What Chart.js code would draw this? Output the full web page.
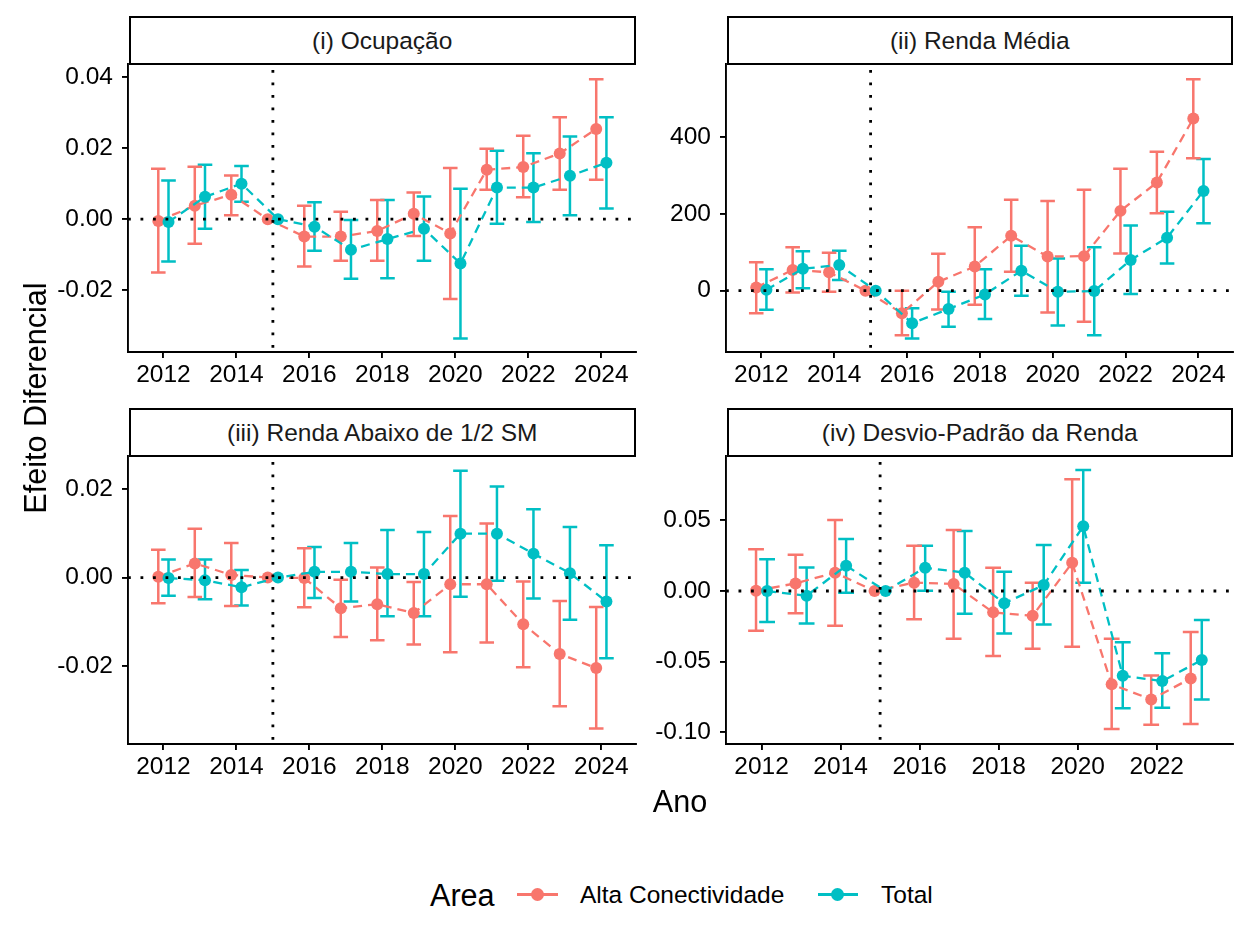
<!DOCTYPE html>
<html>
<head>
<meta charset="utf-8">
<script src="https://cdn.jsdelivr.net/npm/chart.js@4.4.1/dist/chart.umd.min.js"></script>
<style>
  body { margin: 0; background: #fff; width: 1250px; height: 952px; position: relative; overflow: hidden;
         font-family: "Liberation Sans", Arial, sans-serif; }
  canvas { position: absolute; }
  .strip { position: absolute; box-sizing: border-box; border: 2px solid #000; background: #fff;
           text-align: center; font-size: 24.5px; color: #1a1a1a; }
  .txt { position: absolute; white-space: nowrap; color: #000; }
</style>
</head>
<body>
<script>
// anos
const years = [2012, 2013, 2014, 2015, 2016, 2017, 2018, 2019, 2020, 2021, 2022, 2023, 2024];
const years4 = [2012, 2013, 2014, 2015, 2016, 2017, 2018, 2019, 2020, 2021, 2022, 2023];

// (i) Ocupação
const ocupAltaVal = [-0.0005, 0.0038, 0.0069, 0, -0.0049, -0.0049, -0.0033, 0.0015, -0.0040, 0.0139, 0.0147, 0.0185, 0.0254];
const ocupAltaLow = [-0.0150, -0.0069, 0.0011, null, -0.0133, -0.0117, -0.0117, -0.0047, -0.0225, 0.0083, 0.0062, 0.0083, 0.0111];
const ocupAltaHigh = [0.0142, 0.0148, 0.0123, null, 0.0038, 0.0021, 0.0054, 0.0075, 0.0144, 0.0198, 0.0235, 0.0287, 0.0394];
const ocupTotVal = [-0.0008, 0.0063, 0.0100, 0, -0.0021, -0.0086, -0.0056, -0.0027, -0.0125, 0.0089, 0.0089, 0.0122, 0.0159];
const ocupTotLow = [-0.0119, -0.0027, 0.0049, null, -0.0089, -0.0168, -0.0166, -0.0117, -0.0336, -0.0013, -0.0008, 0.0011, 0.0030];
const ocupTotHigh = [0.0109, 0.0153, 0.0150, null, 0.0048, -0.0002, 0.0054, 0.0064, 0.0086, 0.0193, 0.0186, 0.0233, 0.0287];

// (ii) Renda Média
const rendaAltaVal = [8, 54, 48, 0, -59, 23, 63, 143, 89, 90, 208, 282, 449];
const rendaAltaLow = [-59, -5, -3, null, -116, -49, -37, 49, -57, -81, 97, 202, 345];
const rendaAltaHigh = [74, 113, 99, null, 0, 96, 165, 237, 234, 263, 318, 362, 551];
const rendaTotVal = [2, 57, 67, 0, -85, -48, -10, 52, -3, -1, 80, 138, 260];
const rendaTotLow = [-50, 6, 28, null, -125, -94, -74, -13, -91, -116, -9, 71, 176];
const rendaTotHigh = [56, 103, 104, null, -46, -3, 56, 117, 84, 113, 170, 206, 343];

// (iii) Renda Abaixo de 1/2 SM
const baixaAltaVal = [0.0002, 0.0032, 0.0006, 0, -0.0001, -0.0069, -0.0060, -0.0080, -0.0015, -0.0015, -0.0105, -0.0172, -0.0204];
const baixaAltaLow = [-0.0058, -0.0044, -0.0064, null, -0.0067, -0.0134, -0.0141, -0.0151, -0.0168, -0.0146, -0.0202, -0.0290, -0.0340];
const baixaAltaHigh = [0.0063, 0.0110, 0.0078, null, 0.0066, -0.0005, 0.0023, -0.0010, 0.0139, 0.0122, -0.0009, -0.0053, -0.0066];
const baixaTotVal = [-0.0001, -0.0006, -0.0022, 0, 0.0013, 0.0013, 0.0008, 0.0008, 0.0099, 0.0099, 0.0054, 0.0010, -0.0054];
const baixaTotLow = [-0.0041, -0.0049, -0.0063, null, -0.0046, -0.0054, -0.0087, -0.0087, -0.0043, -0.0007, -0.0047, -0.0095, -0.0182];
const baixaTotHigh = [0.0041, 0.0041, 0.0017, null, 0.0069, 0.0078, 0.0107, 0.0103, 0.0241, 0.0205, 0.0154, 0.0114, 0.0073];

// (iv) Desvio-Padrão da Renda
const desvAltaVal = [0.0002, 0.0054, 0.0130, 0, 0.0059, 0.0050, -0.0151, -0.0175, 0.0200, -0.0660, -0.0767, -0.0618];
const desvAltaLow = [-0.0281, -0.0158, -0.0245, null, -0.0200, -0.0337, -0.0460, -0.0408, -0.0394, -0.0976, -0.0946, -0.0941];
const desvAltaHigh = [0.0295, 0.0257, 0.0502, null, 0.0321, 0.0432, 0.0165, 0.0059, 0.0790, -0.0337, -0.0597, -0.0290];
const desvTotVal = [0.0000, -0.0033, 0.0179, 0, 0.0165, 0.0130, -0.0087, 0.0042, 0.0458, -0.0599, -0.0637, -0.0488];
const desvTotLow = [-0.0219, -0.0229, -0.0012, null, 0.0002, -0.0160, -0.0300, -0.0236, 0.0059, -0.0830, -0.0825, -0.0767];
const desvTotHigh = [0.0224, 0.0167, 0.0368, null, 0.0321, 0.0425, 0.0137, 0.0325, 0.0856, -0.0363, -0.0441, -0.0205];

// ticks
const xTicks = [2012, 2014, 2016, 2018, 2020, 2022, 2024];
const xTicks4 = [2012, 2014, 2016, 2018, 2020, 2022];
const yTicks1 = [-0.02, 0, 0.02, 0.04];
const yLabels1 = ['-0.02', '0.00', '0.02', '0.04'];
const yTicks2 = [0, 200, 400];
const yLabels2 = ['0', '200', '400'];
const yTicks3 = [-0.02, 0, 0.02];
const yLabels3 = ['-0.02', '0.00', '0.02'];
const yTicks4 = [-0.10, -0.05, 0, 0.05];
const yLabels4 = ['-0.10', '-0.05', '0.00', '0.05'];

const titles = ['(i) Ocupação', '(ii) Renda Média', '(iii) Renda Abaixo de 1/2 SM', '(iv) Desvio-Padrão da Renda'];
const seriesNames = ['Alta Conectividade', 'Total'];

const RED = '#F8766D', TEAL = '#00BFC4';
const DODGE = 0.14, CAP = 0.2;
const YW = 110, PT = 30, PR = 14, XH = 50;

Chart.defaults.font.family = '"Liberation Sans", Arial, sans-serif';
Chart.defaults.color = '#000';

// barras de erro
const errorBars = {
  id: 'errorBars',
  beforeDatasetsDraw(chart) {
    const ctx = chart.ctx, x = chart.scales.x, y = chart.scales.y;
    [...chart.data.datasets].reverse().forEach(ds => {
      ctx.save();
      ctx.strokeStyle = ds.borderColor;
      ctx.lineWidth = 2.5;
      ds.data.forEach((p, i) => {
        if (ds.low[i] == null) return;
        const px = x.getPixelForValue(p.x);
        const w = x.getPixelForValue(p.x + CAP) - px;
        const lo = y.getPixelForValue(ds.low[i]);
        const hi = y.getPixelForValue(ds.high[i]);
        ctx.beginPath();
        ctx.moveTo(px, lo); ctx.lineTo(px, hi);
        ctx.moveTo(px - w, lo); ctx.lineTo(px + w, lo);
        ctx.moveTo(px - w, hi); ctx.lineTo(px + w, hi);
        ctx.stroke();
      });
      ctx.restore();
    });
  }
};

// linhas de referência pontilhadas
const refLines = {
  id: 'refLines',
  afterDatasetsDraw(chart) {
    const ctx = chart.ctx, a = chart.chartArea, x = chart.scales.x, y = chart.scales.y;
    ctx.save();
    ctx.strokeStyle = '#000';
    ctx.lineWidth = 2.8;
    ctx.setLineDash([2.8, 9.7]);
    const y0 = y.getPixelForValue(0);
    ctx.beginPath(); ctx.moveTo(a.left, y0); ctx.lineTo(a.right, y0); ctx.stroke();
    const x0 = x.getPixelForValue(2015);
    ctx.beginPath(); ctx.moveTo(x0, a.top + 6); ctx.lineTo(x0, a.bottom); ctx.stroke();
    ctx.restore();
  }
};

function series(name, color, yrs, vals, low, high, off, order) {
  return {
    label: name,
    data: yrs.map((yr, i) => ({ x: yr + off, y: vals[i] })),
    low: low, high: high,
    borderColor: color, backgroundColor: color,
    borderWidth: 2.3, borderDash: [9, 6], tension: 0,
    pointRadius: 6, pointHoverRadius: 6, pointBorderWidth: 0,
    order: order
  };
}

function makePanel(p) {
  const box = p.box;
  const c = document.createElement('canvas');
  const w = YW + (box.r - box.l) + PR, h = PT + (box.b - box.t) + XH;
  c.width = w; c.height = h;
  c.style.left = (box.l - YW) + 'px';
  c.style.top = (box.t - PT) + 'px';
  c.style.width = w + 'px'; c.style.height = h + 'px';
  document.body.appendChild(c);

  const strip = document.createElement('div');
  strip.className = 'strip';
  strip.style.left = (box.l + 0.5) + 'px';
  strip.style.top = (box.t - 48) + 'px';
  strip.style.width = (box.r - box.l - 0.5) + 'px';
  strip.style.height = '49px';
  strip.style.lineHeight = '45px';
  strip.textContent = p.title;
  document.body.appendChild(strip);

  const axisCommon = {
    grid: { display: true, drawOnChartArea: false, drawTicks: true, tickLength: 6, color: '#000', lineWidth: 1.9 },
    border: { display: true, color: '#000', width: 1.9 }
  };

  new Chart(c, {
    type: 'line',
    data: {
      datasets: [
        series(seriesNames[0], RED, p.years, p.alta[0], p.alta[1], p.alta[2], -DODGE, 1),
        series(seriesNames[1], TEAL, p.years, p.tot[0], p.tot[1], p.tot[2], DODGE, 0)
      ]
    },
    options: {
      responsive: false,
      animation: false,
      devicePixelRatio: 1,
      layout: { padding: { top: PT, right: PR, left: 0, bottom: 0 } },
      plugins: { legend: { display: false }, tooltip: { enabled: false } },
      scales: {
        x: {
          type: 'linear', min: p.xMin, max: p.xMax,
          ...axisCommon,
          afterBuildTicks: s => { s.ticks = p.xTicks.map(v => ({ value: v })); },
          afterFit: s => { s.height = XH; },
          ticks: { font: { size: 24.5 }, color: '#000', padding: 3, maxRotation: 0, autoSkip: false,
                   callback: v => String(v) }
        },
        y: {
          type: 'linear', min: p.yMin, max: p.yMax,
          ...axisCommon,
          afterBuildTicks: s => { s.ticks = p.yTicks.map(v => ({ value: v })); },
          afterFit: s => { s.width = YW; },
          ticks: { font: { size: 24.5 }, color: '#000', padding: 9, autoSkip: false,
                   callback: (v, i) => p.yLabels[i] }
        }
      }
    },
    plugins: [errorBars, refLines]
  });
}

makePanel({
  title: titles[0], box: { l: 128, t: 64, r: 636, b: 352 },
  years: years, alta: [ocupAltaVal, ocupAltaLow, ocupAltaHigh], tot: [ocupTotVal, ocupTotLow, ocupTotHigh],
  xMin: 2011.03, xMax: 2024.95, xTicks: xTicks,
  yMin: -0.0374, yMax: 0.0437, yTicks: yTicks1, yLabels: yLabels1
});
makePanel({
  title: titles[1], box: { l: 726, t: 64, r: 1233, b: 352 },
  years: years, alta: [rendaAltaVal, rendaAltaLow, rendaAltaHigh], tot: [rendaTotVal, rendaTotLow, rendaTotHigh],
  xMin: 2011.03, xMax: 2024.95, xTicks: xTicks,
  yMin: -160, yMax: 591, yTicks: yTicks2, yLabels: yLabels2
});
makePanel({
  title: titles[2], box: { l: 128, t: 456, r: 636, b: 744 },
  years: years, alta: [baixaAltaVal, baixaAltaLow, baixaAltaHigh], tot: [baixaTotVal, baixaTotLow, baixaTotHigh],
  xMin: 2011.03, xMax: 2024.95, xTicks: xTicks,
  yMin: -0.0375, yMax: 0.0274, yTicks: yTicks3, yLabels: yLabels3
});
makePanel({
  title: titles[3], box: { l: 726, t: 456, r: 1233, b: 744 },
  years: years4, alta: [desvAltaVal, desvAltaLow, desvAltaHigh], tot: [desvTotVal, desvTotLow, desvTotHigh],
  xMin: 2011.1, xMax: 2023.93, xTicks: xTicks4,
  yMin: -0.1082, yMax: 0.0955, yTicks: yTicks4, yLabels: yLabels4
});

// títulos dos eixos e legenda
function addText(txt, left, cy, size, extra) {
  const d = document.createElement('div');
  d.className = 'txt';
  d.textContent = txt;
  d.style.left = left + 'px';
  d.style.top = (cy - 25) + 'px';
  d.style.height = '50px';
  d.style.lineHeight = '50px';
  d.style.fontSize = size + 'px';
  if (extra) Object.assign(d.style, extra);
  document.body.appendChild(d);
  return d;
}
addText('Efeito Diferencial', 35 - 200, 398, 30.6, { width: '400px', textAlign: 'center', transform: 'rotate(-90deg)' });
addText('Ano', 680 - 100, 801, 30.6, { width: '200px', textAlign: 'center' });
addText('Area', 430, 895, 30.6);

function addKey(color, x0, x1, cx, cy) {
  const line = document.createElement('div');
  Object.assign(line.style, { position: 'absolute', left: x0 + 'px', top: (cy - 1.5) + 'px',
    width: (x1 - x0) + 'px', height: '3px', background: color });
  document.body.appendChild(line);
  const dot = document.createElement('div');
  Object.assign(dot.style, { position: 'absolute', left: (cx - 6.5) + 'px', top: (cy - 6.5) + 'px',
    width: '13px', height: '13px', borderRadius: '50%', background: color });
  document.body.appendChild(dot);
}
addKey(RED, 517, 558, 537.5, 894.5);
addText(seriesNames[0], 580, 895, 24.5);
addKey(TEAL, 818, 858, 837.5, 894.5);
addText(seriesNames[1], 881, 895, 24.5);
</script>
</body>
</html>
